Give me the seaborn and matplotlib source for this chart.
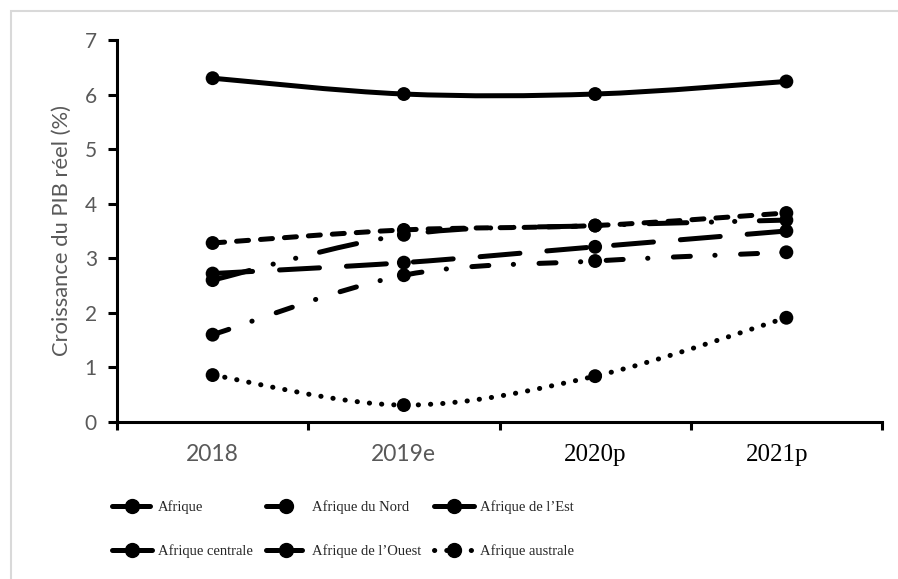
import numpy as np
import pandas as pd
import matplotlib
matplotlib.use("Agg")
import matplotlib.pyplot as plt
from matplotlib.path import Path
from matplotlib.patches import PathPatch, Rectangle
from matplotlib.lines import Line2D
from matplotlib.transforms import ScaledTranslation
import seaborn as sns

# Real GDP growth by region (%)
years = ["2018", "2019e", "2020p", "2021p"]
regions = ["Afrique", "Afrique du Nord", "Afrique de l\u2019Est",
           "Afrique centrale", "Afrique de l\u2019Ouest", "Afrique australe"]
afrique = [2.60, 3.43, 3.60, 3.70]
afrique_nord = [1.60, 2.69, 2.95, 3.11]
afrique_est = [6.30, 6.01, 6.01, 6.24]
afrique_centrale = [2.72, 2.92, 3.21, 3.50]
afrique_ouest = [3.28, 3.52, 3.60, 3.83]
afrique_australe = [0.86, 0.31, 0.84, 1.91]
series = [afrique, afrique_nord, afrique_est,
          afrique_centrale, afrique_ouest, afrique_australe]

# dash patterns in units of line width (round caps)
dash_styles = [
    (0, (7.6, 4.9, 0.05, 4.6, 0.05, 4.9)),   # long dash dot dot
    (0, (3.4, 4.9, 0.05, 5.1)),              # dash dot
    "solid",
    (0, (8.0, 5.4)),                         # long dash
    (0, (2.4, 2.4)),                         # dash
    (0, (0.05, 2.4)),                        # round dot
]

df = pd.DataFrame({
    "Année": years * len(regions),
    "Région": np.repeat(regions, len(years)),
    "Croissance": np.concatenate(series),
})

sns.set_theme(style="white")
plt.rcParams["font.family"] = ["Lato", "DejaVu Sans"]

LW = 3.6
fig = plt.figure(figsize=(8.98, 5.79), dpi=100)
ax = fig.add_axes([117 / 898, 157 / 579, (882 - 117) / 898, (422 - 40) / 579])

sns.scatterplot(data=df, x="Année", y="Croissance", hue="Région",
                palette=["black"] * len(regions), s=100, linewidth=0,
                legend=False, ax=ax, zorder=5)


def smooth_path(xs, ys):
    """Catmull-Rom style smoothed curve through the points."""
    pts = np.column_stack([xs, ys]).astype(float)
    n = len(pts)
    verts, codes = [pts[0]], [Path.MOVETO]
    for i in range(n - 1):
        p0 = pts[i - 1] if i > 0 else pts[i]
        p1, p2 = pts[i], pts[i + 1]
        p3 = pts[i + 2] if i + 2 < n else pts[i + 1]
        verts += [p1 + (p2 - p0) / 6, p2 - (p3 - p1) / 6, p2]
        codes += [Path.CURVE4] * 3
    return Path(verts, codes)


xpos = np.arange(len(years))
for vals, ls in zip(series, dash_styles):
    patch = PathPatch(smooth_path(xpos, vals), facecolor="none",
                      edgecolor="black", lw=LW, linestyle=ls,
                      capstyle="round", joinstyle="round", zorder=4)
    ax.add_patch(patch)

ax.set_xlim(-0.5, len(years) - 0.5)
ax.set_ylim(0, 7)
ax.set_yticks(range(0, 8))
ax.set_xlabel("")
ax.set_ylabel("Croissance du PIB réel (%)", fontsize=15.8, color="#595959",
              labelpad=9)

# category boundaries as tick marks, labels centred on categories
ax.set_xticks(np.arange(-0.5, len(years), 1.0))
ax.set_xticklabels([])
ax.set_xticks(xpos, minor=True)
ax.set_xticklabels(years, minor=True)
ax.tick_params(axis="x", which="major", direction="out", length=6,
               width=2.2, color="black", bottom=True)
ax.tick_params(axis="x", which="minor", length=0, pad=16)
ax.tick_params(axis="y", direction="out", length=6.5, width=2.2,
               color="black", left=True, labelsize=15, labelcolor="#595959",
               pad=8)

for lbl in ax.get_xticklabels(minor=True):
    if lbl.get_text() in ("2018", "2019e"):
        lbl.set_fontfamily("Lato")
        lbl.set_fontsize(16.5)
        lbl.set_color("#595959")
    else:
        lbl.set_fontfamily("Liberation Serif")
        lbl.set_fontsize(18)
        lbl.set_color("black")
    if lbl.get_text() == "2021p":
        lbl.set_transform(lbl.get_transform() +
                          ScaledTranslation(-9 / 100, 0, fig.dpi_scale_trans))

for side in ("top", "right"):
    ax.spines[side].set_visible(False)
for side in ("left", "bottom"):
    ax.spines[side].set_linewidth(2.2)
    ax.spines[side].set_color("black")

handles = [Line2D([], [], color="black", lw=LW, linestyle=ls,
                  dash_capstyle="round", marker="o", markersize=10)
           for ls in dash_styles]
# legend entries run across rows, three per row
order = [0, 3, 1, 4, 2, 5]
fig.legend([handles[i] for i in order], [regions[i] for i in order],
           loc="upper left", ncol=3,
           bbox_to_anchor=(99 / 898, 1 - 487 / 579), frameon=False,
           prop={"family": "Liberation Serif", "size": 10.5},
           handlelength=2.7, handletextpad=0.45, columnspacing=0.9,
           labelspacing=2.1)

# chart area outline
fig.patches.append(Rectangle((11 / 898, -0.1), 1.2, 1.1 - 11 / 579,
                             transform=fig.transFigure, fill=False,
                             edgecolor="#d9d9d9", lw=1.5))

fig.savefig("out.png", dpi=100)
